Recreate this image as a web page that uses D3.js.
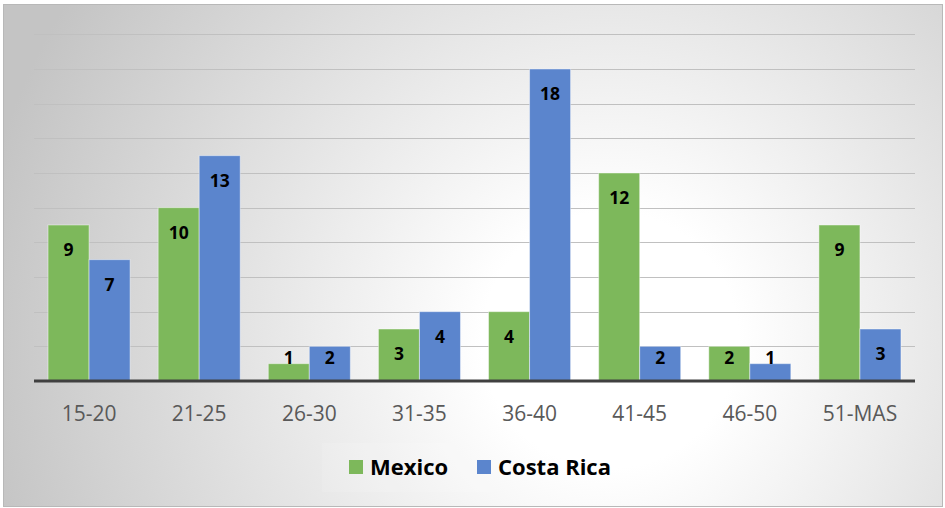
<!DOCTYPE html>
<html>
<head>
<meta charset="utf-8">
<script src="https://cdn.jsdelivr.net/npm/d3@7"></script>
<style>
  html, body { margin: 0; padding: 0; background: #ffffff; }
  svg { display: block; }
</style>
</head>
<body>
<svg id="chart" width="945" height="508"></svg>
<script>
// Age groups and counts per country
const categories = ["15-20", "21-25", "26-30", "31-35", "36-40", "41-45", "46-50", "51-MAS"];
const seriesNames = ["Mexico", "Costa Rica"];
const mexico = [9, 10, 1, 3, 4, 12, 2, 9];
const costaRica = [7, 13, 2, 4, 18, 2, 1, 3];
const gridTicks = [2, 4, 6, 8, 10, 12, 14, 16, 18, 20];
const colors = ["#7db85b", "#5b85cd"];

const seriesValues = [mexico, costaRica];
const rows = categories.map((c, i) => ({
  cat: c,
  vals: seriesNames.map((s, k) => ({ key: s, value: seriesValues[k][i], k }))
}));

const svg = d3.select("#chart");

// Background: soft radial gradient with a thin frame
const defs = svg.append("defs");
const grad = defs.append("radialGradient")
  .attr("id", "bg")
  .attr("gradientUnits", "userSpaceOnUse")
  .attr("cx", 610).attr("cy", 340).attr("r", 640);
grad.append("stop").attr("offset", "0%").attr("stop-color", "#ffffff");
grad.append("stop").attr("offset", "20%").attr("stop-color", "#ffffff");
grad.append("stop").attr("offset", "100%").attr("stop-color", "#c4c4c4");

svg.append("rect")
  .attr("x", 3.5).attr("y", 4.5)
  .attr("width", 939).attr("height", 502)
  .attr("fill", "url(#bg)")
  .attr("stroke", "#b8b8b8").attr("stroke-width", 1);

// Scales
const plotLeft = 34, plotRight = 915, baseY = 381, topY = 34.3;
const y = d3.scaleLinear().domain([0, 20]).range([baseY, topY]);
const x0 = d3.scaleBand().domain(categories).range([plotLeft, plotRight])
  .paddingInner(0.255).paddingOuter(0.1275);
const x1 = d3.scaleBand().domain(seriesNames).range([0, x0.bandwidth()]).padding(0);

// Gridlines
svg.append("g").selectAll("line")
  .data(gridTicks)
  .join("line")
  .attr("x1", plotLeft).attr("x2", plotRight)
  .attr("y1", d => Math.round(y(d)) + 0.5).attr("y2", d => Math.round(y(d)) + 0.5)
  .attr("stroke", "#c0c0c0").attr("stroke-width", 1.2);

// Bars
const groups = svg.append("g").selectAll("g")
  .data(rows)
  .join("g")
  .attr("transform", d => `translate(${x0(d.cat)},0)`);

groups.selectAll("rect")
  .data(d => d.vals)
  .join("rect")
  .attr("x", d => x1(d.key))
  .attr("y", d => y(d.value))
  .attr("width", x1.bandwidth())
  .attr("height", d => baseY - y(d.value))
  .attr("fill", d => colors[d.k])
  .attr("stroke", "rgba(255,255,255,0.45)")
  .attr("stroke-width", 1);

// Value labels near the top of each bar
groups.selectAll("text")
  .data(d => d.vals)
  .join("text")
  .attr("x", d => x1(d.key) + x1.bandwidth() / 2)
  .attr("y", d => Math.min(y(d.value) + 25, baseY - 24) + 6.5)
  .attr("text-anchor", "middle")
  .attr("font-family", "'Open Sans', sans-serif")
  .attr("font-weight", "bold")
  .attr("font-size", 17.5)
  .attr("fill", "#000")
  .text(d => d.value);

// Baseline
svg.append("line")
  .attr("x1", plotLeft).attr("x2", plotRight)
  .attr("y1", baseY).attr("y2", baseY)
  .attr("stroke", "#404040").attr("stroke-width", 3);

// Category axis
const xAxis = svg.append("g")
  .attr("transform", `translate(0,${baseY})`)
  .call(d3.axisBottom(x0).tickSize(0).tickPadding(0));
xAxis.select(".domain").remove();
xAxis.selectAll("text")
  .attr("y", 39.5)
  .attr("dy", 0)
  .attr("font-family", "'Open Sans', sans-serif")
  .attr("font-size", 21)
  .attr("fill", "#595959");

// Legend
const legend = svg.append("g");
legend.append("rect")
  .attr("x", 322).attr("y", 443).attr("width", 305).attr("height", 49)
  .attr("fill", "rgba(255,255,255,0.12)");
const legendPos = [349, 477];
seriesNames.forEach((name, k) => {
  legend.append("rect")
    .attr("x", legendPos[k]).attr("y", 460)
    .attr("width", 14).attr("height", 14)
    .attr("fill", colors[k]);
  legend.append("text")
    .attr("x", legendPos[k] + 21).attr("y", 475)
    .attr("font-family", "'Open Sans', sans-serif")
    .attr("font-weight", "bold")
    .attr("font-size", 22)
    .attr("fill", "#000")
    .text(name);
});
</script>
</body>
</html>
